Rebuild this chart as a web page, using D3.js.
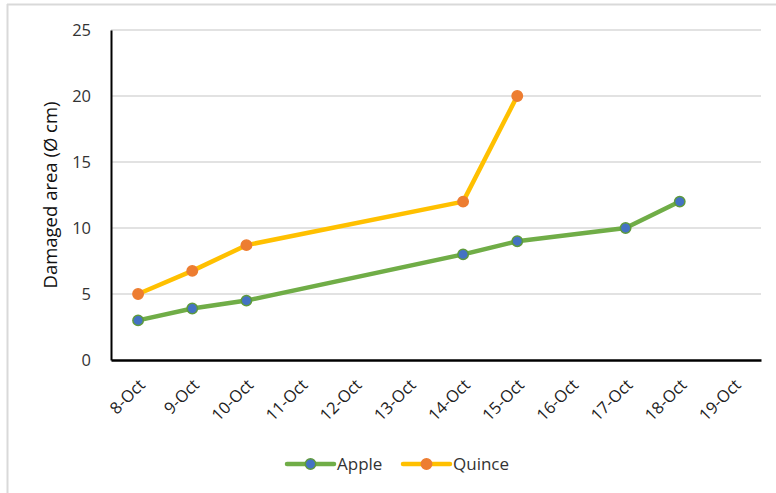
<!DOCTYPE html>
<html><head><meta charset="utf-8">
<script src="https://cdn.jsdelivr.net/npm/d3@7"></script>
<style>body{margin:0;background:#fff;}svg{display:block;}</style>
</head><body>
<svg id="c" width="776" height="493"></svg>
<script>
const categories = ["8-Oct","9-Oct","10-Oct","11-Oct","12-Oct","13-Oct","14-Oct","15-Oct","16-Oct","17-Oct","18-Oct","19-Oct"];
const appleValues = [3, 3.9, 4.5, null, null, null, 8, 9, null, 10, 12, null];
const quinceValues = [5, 6.75, 8.7, null, null, null, 12, 20, null, null, null, null];
const yTicks = [0, 5, 10, 15, 20, 25];
const seriesNames = ["Apple", "Quince"];

const svg = d3.select("#c");
const font = "'Open Sans', 'Noto Sans', sans-serif";
const m = {l: 111, r: 761, t: 30, b: 360};

// chart border (left/top)
svg.append("line").attr("x1",7.5).attr("x2",7.5).attr("y1",4).attr("y2",493).attr("stroke","#d9d9d9").attr("stroke-width",2);
svg.append("line").attr("x1",7).attr("x2",776).attr("y1",4.5).attr("y2",4.5).attr("stroke","#d9d9d9").attr("stroke-width",2);

const x = d3.scaleBand().domain(categories).range([m.l, m.r]);
const y = d3.scaleLinear().domain([0, 25]).range([m.b, m.t]);

// gridlines
svg.append("g").selectAll("line").data(yTicks.filter(d=>d>0)).join("line")
  .attr("x1", m.l).attr("x2", m.r).attr("y1", d=>y(d)).attr("y2", d=>y(d))
  .attr("stroke","#d9d9d9").attr("stroke-width",1.5);

// y axis
const ya = svg.append("g").attr("transform",`translate(${m.l},0)`)
  .call(d3.axisLeft(y).tickValues(yTicks).tickSize(0).tickPadding(20));
ya.select(".domain").attr("stroke","#000").attr("stroke-width",2);
ya.selectAll("text").attr("font-family",font).attr("font-size",16.5).attr("fill","#333");

// x axis
const xa = svg.append("g").attr("transform",`translate(0,${m.b})`)
  .call(d3.axisBottom(x).tickSize(0).tickPadding(0));
xa.select(".domain").attr("stroke","#000").attr("stroke-width",2.5);
xa.selectAll("text")
  .attr("font-family",font).attr("font-size",16.5).attr("fill","#222")
  .attr("text-anchor","end").attr("dy",null).attr("y",0)
  .attr("transform","translate(8,26) rotate(-45)");

// y label
svg.append("text").attr("transform",`translate(57,195) rotate(-90)`)
  .attr("text-anchor","middle").attr("font-family",font).attr("font-size",18.5).attr("fill","#111")
  .text("Damaged area (Ø cm)");

const series = [
  {name: seriesNames[0], values: appleValues, line:"#70ad47", fill:"#4472c4", stroke:"#5e9a3c"},
  {name: seriesNames[1], values: quinceValues, line:"#ffc000", fill:"#ed7d31", stroke:"#ed7d31"}
];

const line = d3.line().x(d=>x(d.c)+x.bandwidth()/2).y(d=>y(d.v));
series.forEach(s=>{
  const pts = categories.map((c,i)=>({c, v:s.values[i]})).filter(d=>d.v!=null);
  svg.append("path").attr("d", line(pts)).attr("fill","none")
    .attr("stroke", s.line).attr("stroke-width",4.5).attr("stroke-linejoin","round").attr("stroke-linecap","round");
  svg.append("g").selectAll("circle").data(pts).join("circle")
    .attr("cx", d=>x(d.c)+x.bandwidth()/2).attr("cy", d=>y(d.v)).attr("r",5.2)
    .attr("fill", s.fill).attr("stroke", s.stroke).attr("stroke-width",1.5);
});

// legend
const legend = [{s:series[0], x0:287}, {s:series[1], x0:403}];
const ly = 464;
legend.forEach(l=>{
  const g = svg.append("g");
  g.append("line").attr("x1",l.x0).attr("x2",l.x0+47).attr("y1",ly).attr("y2",ly)
    .attr("stroke",l.s.line).attr("stroke-width",4.5).attr("stroke-linecap","round");
  g.append("circle").attr("cx",l.x0+23.5).attr("cy",ly).attr("r",5.2)
    .attr("fill",l.s.fill).attr("stroke",l.s.stroke).attr("stroke-width",1.5);
  g.append("text").attr("x",l.x0+50).attr("y",ly+6).attr("font-family",font).attr("font-size",17)
    .attr("fill","#333").text(l.s.name);
});
</script>
</body></html>
